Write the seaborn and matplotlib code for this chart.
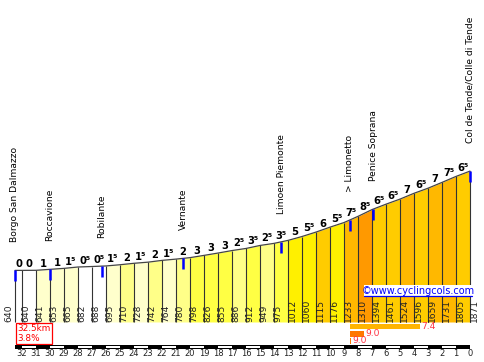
import numpy as np
import matplotlib
matplotlib.use("Agg")
import matplotlib.pyplot as plt
import seaborn as sns
from matplotlib.patches import Rectangle

# ---------------- data ----------------
km_marks = [32.5, 32, 31, 30, 29, 28, 27, 26, 25, 24, 23, 22, 21, 20, 19, 18, 17,
            16, 15, 14, 13, 12, 11, 10, 9, 8, 7, 6, 5, 4, 3, 2, 1, 0]
elevations = [640, 640, 641, 653, 665, 682, 688, 695, 710, 728, 742, 764, 780, 798,
              826, 855, 886, 912, 949, 975, 1012, 1060, 1115, 1176, 1233, 1310, 1394,
              1461, 1524, 1596, 1659, 1731, 1805, 1871]
grades = [0, 0, 1, 1, 1.5, 0.5, 0.5, 1.5, 2, 1.5, 2, 1.5, 2, 3, 3, 3, 2.5, 3.5, 2.5,
          3.5, 5, 5.5, 6, 5.5, 7.5, 8.5, 6.5, 6.5, 7, 6.5, 7, 7.5, 6.5]
places = ["Borgo San Dalmazzo", "Roccavione", "Robilante", "Vernante",
          "Limoen Piemonte", "> Limonetto", "Penice Soprana",
          "Col de Tende/Colle di Tende"]
place_km = [32.5, 30, 26.3, 20.5, 13.5, 8.6, 6.9, 0]
axis_km = [32, 31, 30, 29, 28, 27, 26, 25, 24, 23, 22, 21, 20, 19, 18, 17, 16,
           15, 14, 13, 12, 11, 10, 9, 8, 7, 6, 5, 4, 3, 2, 1, 0]
steep_len = [5, 1, 0.1]
steep_grade = [7.4, 9.0, 9.0]
steep_start = 8.6
total_len = "32.5km"
avg_grade = "3.8%"
site = "\u00a9www.cyclingcols.com"

# ---------------- layout helpers (pixel <-> data) ----------------
W, H = 485, 362
PX_PER_KM = 14.0
X_KM0 = 470.0        # pixel column of km 0
M_PER_PX = 12.4
Y_M0 = 322.0         # pixel row of 0 m


def km_at(px):
    return (X_KM0 - px) / PX_PER_KM


def el_at(py):
    return (Y_M0 - py) * M_PER_PX


def dkm(px):
    return px / PX_PER_KM


def dm(px):
    return px * M_PER_PX


def grade_color(g):
    bins = [(1, "#FFFFFF"), (2, "#FFFFCC"), (3, "#FFFF88"), (4, "#FFFF44"),
            (5, "#FFFF00"), (6, "#FFF000"), (7, "#FFCC00"), (8, "#FFB800"),
            (9, "#FF9900")]
    for lim, c in bins:
        if g < lim:
            return c
    return "#FF6600"


sns.set_theme(style="white")
plt.rcParams["font.family"] = ["DejaVu Sans"]

fig = plt.figure(figsize=(W / 100, H / 100), dpi=100)
ax = fig.add_axes([0, 0, 1, 1])
ax.set_facecolor("white")

km = np.array(km_marks, dtype=float)
el = np.array(elevations, dtype=float)

# coloured segments
for i in range(len(km) - 1):
    ax.fill_between([km[i], km[i + 1]], [0, 0], [el[i], el[i + 1]],
                    color=grade_color(grades[i]), linewidth=0, zorder=1)

# segment separators
ax.vlines(km, 0, el, color="#333333", linewidth=0.8, zorder=2)

# profile outline
sns.lineplot(x=km, y=el, color="#444444", linewidth=0.9, ax=ax, zorder=3,
             sort=False, legend=False)

# gradient labels
for i, g in enumerate(grades):
    mid = (km[i] + km[i + 1]) / 2
    ymid = (el[i] + el[i + 1]) / 2
    txt = str(int(g)) + ("\u2075" if g % 1 else "")
    ax.text(mid, ymid + dm(3), txt, ha="center", va="baseline",
            fontsize=7.2, fontweight="bold", color="black", zorder=5)

# elevation labels
for i, (k, e) in enumerate(zip(km, el)):
    x = k + dkm(6) if i == 0 else k - dkm(4)
    ax.text(x, el_at(321.5), f"{int(e)}", rotation=90, ha="center", va="bottom",
            fontsize=6.6, color="#222222", zorder=5)

# places: blue markers + names
for name, pk in zip(places, place_km):
    pe = np.interp(pk, km[::-1], el[::-1])
    ax.plot([pk, pk], [pe, pe - dm(11)], color="#0000FF", linewidth=1.8,
            solid_capstyle="butt", zorder=4)
    ax.text(pk, pe + dm(28), name, rotation=90, ha="center", va="bottom",
            fontsize=6.6, color="black", zorder=5)

# watermark
ax.add_patch(Rectangle((km_at(364), el_at(296)), km_at(472) - km_at(364),
                       dm(11), facecolor="white", edgecolor="none", zorder=6))
ax.plot([km_at(364), km_at(472)], [el_at(296.2), el_at(296.2)], color="#0000FF",
        linewidth=0.9, zorder=7)
ax.text(km_at(418), el_at(290.5), site, ha="center", va="center", fontsize=7,
        color="#0000FF", zorder=7)

# steepest sections bars
bar_rows = [326.7, 333.8, 340.8]
bar_cols = ["#FFB400", "#FF7700", "#FF7700"]
for L, g, row, c in zip(steep_len, steep_grade, bar_rows, bar_cols):
    ax.barh(el_at(row), -L, left=steep_start, height=dm(5.5), color=c,
            linewidth=0, zorder=4)
    ax.text(steep_start - L - dkm(1.5), el_at(row), f"{g:.1f}", ha="left",
            va="center", fontsize=6.6, color="#FF3344", zorder=5)

# summary box
ax.add_patch(Rectangle((km_at(15.5), el_at(344)), km_at(52) - km_at(15.5),
                       dm(21), facecolor="white", edgecolor="#FF0000",
                       linewidth=0.9, zorder=4))
ax.text(km_at(17), el_at(328.5), total_len, ha="left", va="center",
        fontsize=6.4, color="#FF0000", zorder=5)
ax.text(km_at(17), el_at(338.5), avg_grade, ha="left", va="center",
        fontsize=6.4, color="#FF0000", zorder=5)

# km ruler
ax.add_patch(Rectangle((km[0], el_at(349)), km[-1] - km[0], dm(4),
                       facecolor="black", edgecolor="none", zorder=4))
for k in axis_km[:-1]:
    if k % 2 == 0:
        ax.add_patch(Rectangle((k, el_at(348.3)), -1, dm(2.6),
                               facecolor="white", edgecolor="none", zorder=5))
for k in axis_km:
    ax.text(k, el_at(353.5), str(k), ha="center", va="center", fontsize=6,
            color="#222222", zorder=5)

ax.set_xlim(km_at(0), km_at(W))
ax.set_ylim(el_at(H), el_at(0))
ax.set_axis_off()

fig.savefig("out.png", dpi=100)
